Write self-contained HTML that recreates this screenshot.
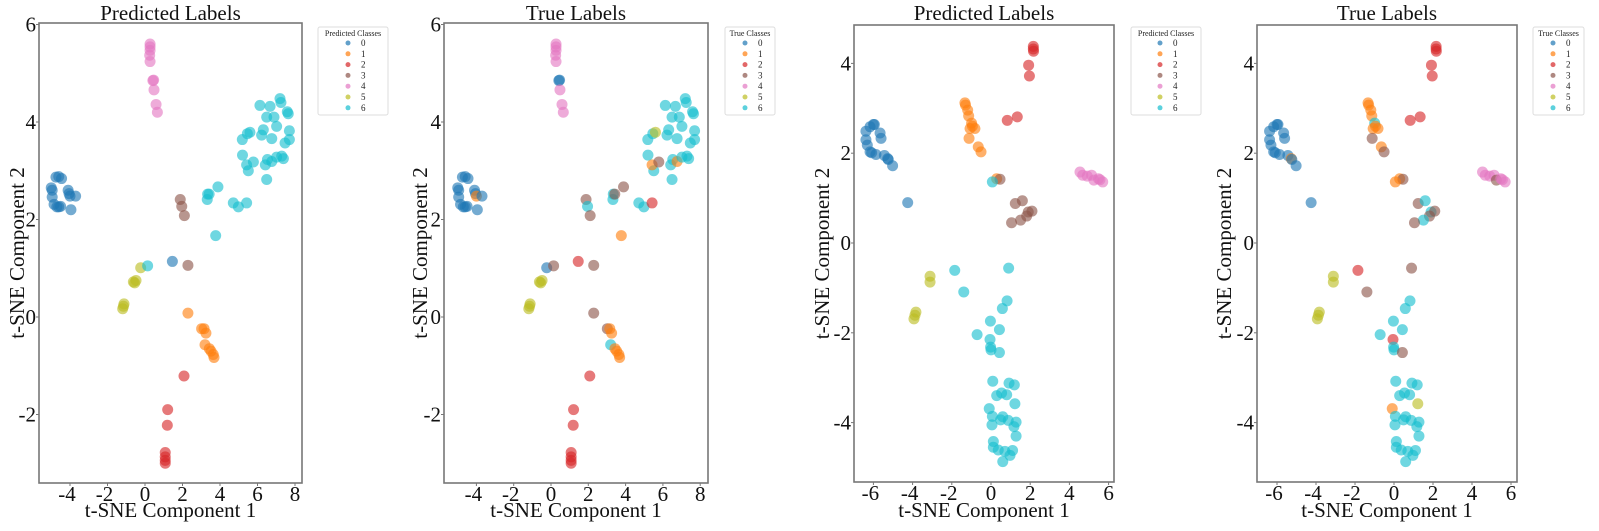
<!DOCTYPE html>
<html><head><meta charset="utf-8"><style>
body{margin:0;background:#fff;}
svg{display:block;font-family:"Liberation Serif",serif;}
</style></head><body>
<svg id="chart" width="1599" height="531" viewBox="0 0 1599 531"></svg>
<script>
const classNames=["0","1","2","3","4","5","6"];
const classColors=["#1f77b4","#ff7f0e","#d62728","#8c564b","#e377c2","#bcbd22","#17becf"];
// Panels 1-2 (same embedding)
const embAx=[-5.0,-4.95,-4.95,-4.75,-4.6,-4.45,-4.85,-4.7,-4.6,-4.5,-4.1,-4.05,-4.0,-3.7,-3.95,1.46,
0.27,0.27,0.27,0.25,0.27,0.42,0.46,0.48,0.59,0.66,
-1.19,-1.12,-1.15,-0.62,-0.48,-0.55,-0.23,0.14,
1.88,1.96,2.1,2.29,
2.29,3.02,3.15,3.25,3.2,3.43,3.52,3.64,3.68,
2.08,1.21,1.19,1.08,1.08,1.08,1.08,
3.34,3.32,3.42,3.89,3.77,4.71,4.98,5.42,5.51,5.42,5.2,5.78,6.49,6.42,6.53,6.76,7.02,7.29,7.38,5.19,5.46,5.6,6.22,6.31,6.76,7.02,7.47,7.7,7.7,6.13,6.67,6.49,6.88,7.2,7.25,7.59,7.64];
const embAy=[2.65,2.6,2.46,2.87,2.88,2.84,2.31,2.26,2.26,2.27,2.6,2.53,2.48,2.48,2.2,1.14,
5.6,5.54,5.47,5.37,5.24,4.85,4.86,4.66,4.36,4.2,
0.17,0.27,0.22,0.72,0.75,0.7,1.01,1.05,
2.41,2.27,2.08,1.06,
0.08,-0.24,-0.24,-0.33,-0.57,-0.65,-0.7,-0.77,-0.83,
-1.21,-1.9,-2.22,-2.78,-2.87,-2.94,-3.0,
2.52,2.41,2.52,2.67,1.67,2.34,2.26,2.34,3.0,3.12,3.32,3.18,2.82,3.12,3.23,3.19,3.28,3.3,3.25,3.64,3.76,3.79,3.73,3.84,3.66,3.91,3.57,3.82,3.64,4.34,4.32,4.1,4.1,4.48,4.4,4.21,4.17];
const predA=[0,0,0,0,0,0,0,0,0,0,0,0,0,0,0,0,
4,4,4,4,4,4,4,4,4,4,
5,5,5,5,5,5,5,6,
3,3,3,3,
1,1,1,1,1,1,1,1,1,
2,2,2,2,2,2,2,
6,6,6,6,6,6,6,6,6,6,6,6,6,6,6,6,6,6,6,6,6,6,6,6,6,6,6,6,6,6,6,6,6,6,6,6,6];
const trueA=[0,0,0,0,0,0,0,0,0,0,0,0,1,0,0,2,
4,4,4,4,4,0,0,4,4,4,
5,5,5,5,5,5,0,3,
3,6,3,3,
3,3,1,1,6,1,1,1,1,
2,2,2,2,2,2,2,
6,6,3,3,1,6,6,2,6,1,6,3,6,6,6,1,6,6,6,6,6,5,6,6,6,6,6,6,6,6,6,6,6,6,6,6,6];
// Panels 3-4
const embBx=[-6.38,-6.17,-6.0,-5.95,-6.38,-6.31,-6.17,-6.09,-5.87,-5.66,-5.61,-5.44,-5.27,-5.24,-5.02,-4.25,
-1.33,-1.3,-1.19,-1.14,-0.99,-0.95,-1.07,-0.82,-1.12,-0.65,-0.51,0.29,
2.16,2.16,2.17,1.92,1.96,0.83,1.34,
4.54,4.68,4.91,5.13,5.25,5.48,5.56,5.7,
0.46,1.24,1.6,1.9,2.09,1.82,1.51,1.05,
0.07,
-3.11,-3.11,-3.83,-3.88,-3.93,
-1.85,-1.39,0.9,0.82,0.58,-0.03,0.43,-0.71,-0.05,-0.02,0.0,0.43,0.09,0.92,1.19,0.29,0.54,0.8,1.22,-0.09,0.07,0.6,0.49,0.88,1.28,1.17,0.05,1.28,0.12,0.12,0.37,0.71,1.1,0.97,0.6];
const embBy=[2.49,2.59,2.64,2.64,2.3,2.18,2.03,2.01,1.97,2.45,2.33,1.95,1.88,1.86,1.72,0.9,
3.12,3.07,2.96,2.83,2.67,2.6,2.55,2.55,2.33,2.14,2.03,1.43,
4.38,4.32,4.27,3.96,3.72,2.73,2.81,
1.58,1.51,1.49,1.51,1.4,1.43,1.41,1.36,
1.42,0.88,0.94,0.69,0.71,0.6,0.51,0.45,
1.36,
-0.74,-0.87,-1.54,-1.61,-1.69,
-0.61,-1.09,-0.56,-1.29,-1.46,-1.74,-1.93,-2.04,-2.15,-2.32,-2.38,-2.44,-3.08,-3.12,-3.16,-3.4,-3.34,-3.38,-3.58,-3.69,-3.86,-3.87,-3.94,-3.95,-3.99,-4.09,-4.05,-4.3,-4.42,-4.55,-4.61,-4.64,-4.62,-4.73,-4.87];
const predB=[0,0,0,0,0,0,0,0,0,0,0,0,0,0,0,0,
1,1,1,1,1,1,1,1,1,1,1,1,
2,2,2,2,2,2,2,
4,4,4,4,4,4,4,4,
3,3,3,3,3,3,3,3,
6,
5,5,5,5,5,
6,6,6,6,6,6,6,6,6,6,6,6,6,6,6,6,6,6,6,6,6,6,6,6,6,6,6,6,6,6,6,6,6,6,6];
const trueB=[0,0,0,0,0,0,0,0,0,0,0,0,1,0,0,0,
1,1,1,1,6,1,1,1,3,1,3,1,
2,2,2,2,2,2,2,
4,4,4,4,3,4,4,4,
3,3,6,6,3,3,6,3,
1,
5,5,5,5,5,
2,3,3,6,6,6,6,6,2,6,6,3,6,6,6,6,6,6,5,1,6,6,6,6,6,6,6,6,6,6,6,6,6,6,6];
const ticksA_x=[-4,-2,0,2,4,6,8], ticksA_y=[-2,0,2,4,6];
const ticksB_x=[-6,-4,-2,0,2,4,6], ticksB_y=[-4,-2,0,2,4];

const panels=[
 {title:"Predicted Labels",leg:"Predicted Classes",xs:embAx,ys:embAy,cls:predA,x0:145,sx:18.75,y0:317,sy:48.75,bx:39,bw:263,by:23,bh:460,tx:ticksA_x,ty:ticksA_y,ytx:17,lx:318,lw:70,lmx:348},
 {title:"True Labels",leg:"True Classes",xs:embAx,ys:embAy,cls:trueA,x0:551,sx:18.65,y0:317,sy:48.75,bx:444,bw:264,by:23,bh:460,tx:ticksA_x,ty:ticksA_y,ytx:420,lx:725,lw:50,lmx:745},
 {title:"Predicted Labels",leg:"Predicted Classes",xs:embBx,ys:embBy,cls:predB,x0:991,sx:19.6,y0:243,sy:44.9,bx:854,bw:260,by:25,bh:457,tx:ticksB_x,ty:ticksB_y,ytx:822,lx:1131,lw:70,lmx:1160},
 {title:"True Labels",leg:"True Classes",xs:embBx,ys:embBy,cls:trueB,x0:1394,sx:19.5,y0:243,sy:44.9,bx:1257,bw:260,by:25,bh:457,tx:ticksB_x,ty:ticksB_y,ytx:1224,lx:1533,lw:51,lmx:1553}
];
const NS="http://www.w3.org/2000/svg";
const svg=document.getElementById("chart");
function mk(tag,attrs,parent,text){const e=document.createElementNS(NS,tag);for(const k in attrs)e.setAttribute(k,attrs[k]);if(text!==undefined)e.textContent=text;parent.appendChild(e);return e;}
panels.forEach((p,pi)=>{
 const g=mk("g",{},svg);
 
 
 const X=v=>p.x0+p.sx*v, Y=v=>p.y0-p.sy*v;
 const t=mk("text",{x:p.bx+p.bw/2,y:20,"text-anchor":"middle","font-size":21,fill:"#111"},g,p.title);
 
 
 const pts=mk("g",{},g);
 
 
 p.xs.forEach((xv,i)=>{
  const c=mk("circle",{cx:X(xv),cy:Y(p.ys[i]),r:5.5,fill:classColors[p.cls[i]],"fill-opacity":0.62},pts);
  
  
 });
 const box=mk("rect",{x:p.bx,y:p.by,width:p.bw,height:p.bh,fill:"none",stroke:"#777","stroke-width":1.6},g);
 
 
 p.tx.forEach(v=>{
  mk("line",{x1:X(v),x2:X(v),y1:p.by+p.bh,y2:p.by+p.bh+3,stroke:"#777"},g);
  const l=mk("text",{x:X(v)-(v<0?3:0),y:p.by+p.bh+18,"text-anchor":"middle","font-size":21,fill:"#111"},g,String(v));
  
  
 });
 p.ty.forEach(v=>{
  mk("line",{x1:p.bx-3,x2:p.bx,y1:Y(v),y2:Y(v),stroke:"#777"},g);
  const l=mk("text",{x:p.bx-3,y:Y(v)+7,"text-anchor":"end","font-size":21,fill:"#111"},g,String(v));
  
  
 });
 const xt=mk("text",{x:p.bx+p.bw/2,y:517,"text-anchor":"middle","font-size":21,fill:"#111"},g,"t-SNE Component 1");
 
 
 const yt=mk("text",{x:0,y:0,"text-anchor":"middle","font-size":21,fill:"#111",transform:`translate(${p.ytx+7},${p.by+p.bh/2}) rotate(-90)`},g,"t-SNE Component 2");
 
 
 const lg=mk("g",{},g);
 
 
 mk("rect",{x:p.lx,y:27,width:p.lw,height:88,fill:"#fff",stroke:"#ddd","stroke-width":1,rx:2},lg);
 mk("text",{x:p.lx+p.lw/2,y:36,"text-anchor":"middle","font-size":8,fill:"#222"},lg,p.leg);
 classNames.forEach((n,i)=>{
  const yy=43+i*10.8;
  const m=mk("circle",{cx:p.lmx,cy:yy,r:2.5,fill:classColors[i],"fill-opacity":0.7},lg);
  
  
  const tl=mk("text",{x:p.lmx+13,y:yy+3,"font-size":9,fill:"#222"},lg,n);
  
  
 });
});
</script>
</body></html>
